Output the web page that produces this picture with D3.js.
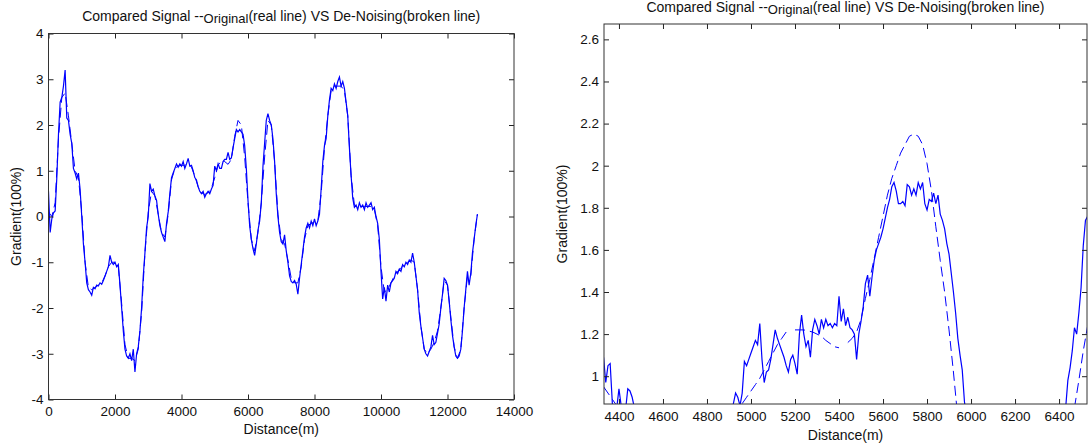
<!DOCTYPE html>
<html lang="en">
<head>
<meta charset="UTF-8">
<title>Compared Signal</title>
<script src="https://d3js.org/d3.v7.min.js"></script>
<style>
  body { margin: 0; background: #fff; }
  svg text { font-family: Arial, "Liberation Sans", sans-serif; font-size: 14px; fill: #111; }
  .tick text { font-size: 13.5px; }
  .tick line { stroke: #222; }
  .domain { display: none; }
  .orig { fill: none; stroke: #0000ff; stroke-width: 1.2; }
  .den { fill: none; stroke: #0000ff; stroke-width: 1; stroke-dasharray: 10,5; }
</style>
</head>
<body>
<svg id="chart" width="1088" height="447"></svg>
<script>
// ---- data ----
const titleA = "Compared Signal --";
const titleSub = "Original";
const titleB = "(real line) VS De-Noising(broken line)";
const xLabel = "Distance(m)";
const yLabel = "Gradient(100%)";

// full signal, sampled every 50 m from 0 m
const origStep = 50;
const origVals = [
  0.55, -0.35, -0.05, 0.08, 0.12, 0.85, 1.8, 2.5, 2.6, 2.85, 3.2, 2.15, 2.1, 1.8, 1.6, 1.05, 0.95, 0.82, 0.95, 0.6,
  0.0, -0.6, -1.0, -1.45, -1.6, -1.65, -1.72, -1.55, -1.58, -1.5, -1.52, -1.45, -1.48, -1.4, -1.3, -1.2, -1.1, -0.85, -1.0, -1.05,
  -1.0, -1.1, -1.05, -1.5, -2.0, -2.5, -2.9, -3.05, -3.1, -3.0, -3.15, -2.9, -3.4, -3.0, -2.85, -2.5, -2.0, -1.3, -0.8, -0.25,
  0.0, 0.72, 0.55, 0.6, 0.45, 0.35, 0.05, -0.2, -0.35, -0.45, -0.55, -0.15, 0.1, 0.5, 0.85, 0.95, 1.05, 1.15, 1.08, 1.15,
  1.1, 1.2, 1.05, 1.15, 1.27, 1.1, 1.12, 1.0, 0.85, 0.8, 0.65, 0.55, 0.5, 0.55, 0.42, 0.5, 0.55, 0.5, 0.6, 0.68,
  1.1, 1.0, 1.15, 1.05, 1.05, 1.2, 1.25, 1.25, 1.4, 1.25, 1.28, 1.5, 1.7, 1.9, 1.85, 1.9, 1.85, 1.8, 1.55, 1.05,
  0.35, -0.2, -0.5, -0.7, -0.85, -0.6, -0.3, -0.1, 0.3, 1.1, 1.6, 2.1, 2.25, 2.1, 2.0, 1.7, 1.2, 0.5, 0.0, -0.35,
  -0.55, -0.6, -0.4, -0.75, -1.0, -1.3, -1.42, -1.45, -1.4, -1.48, -1.7, -1.35, -1.05, -0.75, -0.45, -0.25, -0.15, -0.25, -0.1, -0.2,
  -0.05, -0.2, -0.1, 0.05, 0.6, 1.2, 1.55, 1.7, 2.2, 2.55, 2.8, 2.75, 2.9, 2.8, 2.95, 3.05, 2.85, 2.95, 2.8, 2.5,
  2.2, 1.5, 0.9, 0.4, 0.2, 0.25, 0.15, 0.3, 0.2, 0.25, 0.15, 0.3, 0.2, 0.25, 0.3, 0.15, 0.2, 0.0, -0.15, -0.5,
  -1.2, -1.8, -1.55, -1.85, -1.5, -1.65, -1.45, -1.4, -1.35, -1.2, -1.25, -1.15, -1.2, -1.05, -1.1, -1.0, -1.05, -0.95, -1.0, -0.8,
  -1.0, -1.3, -1.6, -2.1, -2.4, -2.65, -2.9, -3.0, -3.05, -2.95, -2.85, -2.6, -2.8, -2.75, -2.55, -2.35, -2.0, -1.7, -1.35, -1.4,
  -1.5, -1.85, -2.25, -2.6, -2.85, -3.05, -3.1, -3.05, -2.9, -2.5, -2.0, -1.6, -1.2, -1.5, -1.25, -0.8, -0.5, -0.2, 0.05
];

// de-noised signal, every 100 m from 0 m
const denStep = 100;
const denVals = [
  0.1, 0.0, 0.3, 1.7, 2.6, 2.7, 2.2, 1.6, 1.0, 0.85, 0.1, -1.0, -1.55, -1.6, -1.55, -1.5, -1.45, -1.3, -1.1, -1.0,
  -1.0, -1.1, -1.9, -2.8, -3.1, -3.1, -3.15, -2.9, -2.1, -0.8, 0.1, 0.55, 0.45, 0.05, -0.35, -0.45, 0.05, 0.8, 1.05, 1.1,
  1.12, 1.12, 1.15, 1.08, 0.88, 0.65, 0.52, 0.48, 0.52, 0.62, 0.85, 1.12, 1.22, 1.2, 1.14, 1.25, 1.75, 2.1, 2.0, 1.3,
  0.3, -0.5, -0.75, -0.35, 0.3, 1.3, 2.1, 2.0, 1.2, 0.05, -0.5, -0.6, -0.95, -1.35, -1.45, -1.45, -1.1, -0.5, -0.2, -0.15,
  -0.12, -0.1, 0.5, 1.5, 2.2, 2.75, 2.85, 2.85, 2.85, 2.75, 2.2, 0.9, 0.25, 0.2, 0.22, 0.22, 0.22, 0.22, 0.15, -0.2,
  -1.1, -1.65, -1.6, -1.45, -1.3, -1.2, -1.12, -1.05, -1.0, -0.95, -1.0, -1.6, -2.4, -2.9, -3.0, -2.9, -2.75, -2.5, -2.0, -1.4,
  -1.5, -2.2, -2.85, -3.1, -2.9, -2.0, -1.3, -1.3, -0.5, 0.05
];

// zoomed view, original signal every 10 m (only stretches above the axis floor)
const zoomStep = 10;
const zoomOrigA_start = 4330;
const zoomOrigA = [1.09, 0.97, 1.05, 1.06, 0.87, 0.8, 0.85, 0.94, 0.86, 0.82, 0.84, 0.94, 0.93, 0.9, 0.85, 0.8];
const zoomOrigB_start = 4910;
const zoomOrigB = [
  0.84, 0.87, 0.92, 0.9, 0.86, 0.92, 1.07, 1.05, 1.08, 1.11,
  1.14, 1.17, 1.15, 1.25, 1.08, 0.97, 1.02, 1.03, 1.08, 1.15,
  1.22, 1.18, 1.15, 1.12, 1.09, 1.05, 1.02, 1.08, 1.1, 1.06,
  1.01, 1.2, 1.29, 1.2, 1.14, 1.17, 1.09, 1.22, 1.27, 1.24,
  1.2, 1.27, 1.23, 1.27, 1.24, 1.25, 1.23, 1.25, 1.24, 1.38,
  1.26, 1.32, 1.24, 1.28, 1.23, 1.22, 1.2, 1.08, 1.2, 1.26,
  1.33, 1.44, 1.48, 1.38, 1.47, 1.55, 1.6, 1.63, 1.66, 1.7,
  1.75, 1.8, 1.84, 1.9, 1.92, 1.88, 1.82, 1.82, 1.83, 1.81,
  1.91, 1.9, 1.86, 1.89, 1.86, 1.92, 1.89, 1.92, 1.82, 1.79,
  1.84, 1.83, 1.87, 1.82, 1.86, 1.77, 1.74, 1.7, 1.63, 1.58,
  1.49, 1.4, 1.3, 1.18, 1.1, 1.03, 0.88, 0.8
];
const zoomOrigC_start = 6420;
const zoomOrigC = [0.75, 0.85, 0.98, 1.04, 1.12, 1.23, 1.2, 1.3, 1.42, 1.62, 1.74, 1.76];

// zoomed view, de-noised pieces every 20 m
const zoomDenStep = 20;
const zoomDenA_start = 4330;
const zoomDenA = [0.95, 0.92, 0.89, 0.86];
const zoomDenB_start = 4960;
const zoomDenB = [0.87, 0.9, 0.93, 0.96, 0.99, 1.03, 1.07, 1.11, 1.15, 1.18, 1.21];
const zoomDenC_start = 5200;
const zoomDenC = [1.22, 1.22, 1.22, 1.215, 1.21, 1.2, 1.19, 1.17, 1.155, 1.14, 1.135];
const zoomDenD_start = 5440;
const zoomDenD = [1.16, 1.18, 1.21, 1.27, 1.37, 1.46, 1.56, 1.66, 1.76, 1.86, 1.94, 2.0, 2.06,
                  2.1, 2.14, 2.15, 2.14, 2.1, 2.01, 1.88, 1.71, 1.55, 1.4, 1.22, 1.02, 0.8];
const zoomDenE_start = 6470;
const zoomDenE = [0.85, 0.98, 1.12, 1.24];

// ticks
const leftXTicks = [0, 2000, 4000, 6000, 8000, 10000, 12000, 14000];
const leftYTicks = [-4, -3, -2, -1, 0, 1, 2, 3, 4];
const rightXTicks = [4400, 4600, 4800, 5000, 5200, 5400, 5600, 5800, 6000, 6200, 6400];
const rightYTicks = [1, 1.2, 1.4, 1.6, 1.8, 2, 2.2, 2.4, 2.6];

// ---- drawing ----
const svg = d3.select("#chart");

function pts(start, step, vals) {
  return vals.map((v, i) => [start + i * step, v]);
}

function panel(o) {
  const x = d3.scaleLinear().domain(o.xDomain).range([o.left, o.right]);
  const y = d3.scaleLinear().domain(o.yDomain).range([o.bottom, o.top]);
  const g = svg.append("g");

  g.append("clipPath").attr("id", o.id)
    .append("rect")
    .attr("x", o.left).attr("y", o.top)
    .attr("width", o.right - o.left).attr("height", o.bottom - o.top);

  const line = d3.line().x(d => x(d[0])).y(d => y(d[1]));
  const lines = g.append("g").attr("clip-path", `url(#${o.id})`);
  o.orig.forEach(s => lines.append("path").attr("class", "orig").attr("d", line(s)));
  o.den.forEach(s => lines.append("path").attr("class", "den").attr("d", line(s)));

  const fmt = d => String(+d.toFixed(1));
  // ticks point inward on all four sides
  g.append("g").attr("transform", `translate(0,${o.bottom})`)
    .call(d3.axisBottom(x).tickValues(o.xTicks).tickSize(-5).tickPadding(7).tickFormat(fmt));
  g.append("g").attr("transform", `translate(0,${o.top})`)
    .call(d3.axisTop(x).tickValues(o.xTicks).tickSize(-5).tickFormat(""));
  g.append("g").attr("transform", `translate(${o.left},0)`)
    .call(d3.axisLeft(y).tickValues(o.yTicks).tickSize(-5).tickPadding(5).tickFormat(fmt));
  g.append("g").attr("transform", `translate(${o.right},0)`)
    .call(d3.axisRight(y).tickValues(o.yTicks).tickSize(-5).tickFormat(""));

  g.append("rect")
    .attr("x", o.left).attr("y", o.top)
    .attr("width", o.right - o.left).attr("height", o.bottom - o.top)
    .attr("fill", "none").attr("stroke", "#333").attr("stroke-width", 1);

  const cx = (o.left + o.right) / 2;
  const t = g.append("text").attr("x", cx).attr("y", o.titleY).attr("text-anchor", "middle");
  t.append("tspan").text(titleA);
  t.append("tspan").attr("dy", 2).style("font-size", "13px").text(titleSub);
  t.append("tspan").attr("dy", -2).text(titleB);

  g.append("text").attr("x", cx).attr("y", o.xLabelY).attr("text-anchor", "middle").text(xLabel);
  g.append("text")
    .attr("transform", `translate(${o.yLabelX},${(o.top + o.bottom) / 2}) rotate(-90)`)
    .attr("text-anchor", "middle").text(yLabel);
}

panel({
  id: "clipL", left: 48.5, right: 514, top: 33.5, bottom: 399.5,
  xDomain: [0, 14000], yDomain: [-4, 4],
  xTicks: leftXTicks, yTicks: leftYTicks,
  orig: [pts(0, origStep, origVals)],
  den: [pts(0, denStep, denVals)],
  titleY: 21, xLabelY: 434, yLabelX: 21
});

panel({
  id: "clipR", left: 604, right: 1087, top: 24, bottom: 404,
  xDomain: [4332, 6527], yDomain: [0.868, 2.673],
  xTicks: rightXTicks, yTicks: rightYTicks,
  orig: [pts(zoomOrigA_start, zoomStep, zoomOrigA),
         pts(zoomOrigB_start, zoomStep, zoomOrigB),
         pts(zoomOrigC_start, zoomStep, zoomOrigC)],
  den: [pts(zoomDenA_start, zoomDenStep, zoomDenA),
        pts(zoomDenB_start, zoomDenStep, zoomDenB),
        pts(zoomDenC_start, zoomDenStep, zoomDenC),
        pts(zoomDenD_start, zoomDenStep, zoomDenD),
        pts(zoomDenE_start, zoomDenStep, zoomDenE)],
  titleY: 12, xLabelY: 440, yLabelX: 567
});
</script>
</body>
</html>
